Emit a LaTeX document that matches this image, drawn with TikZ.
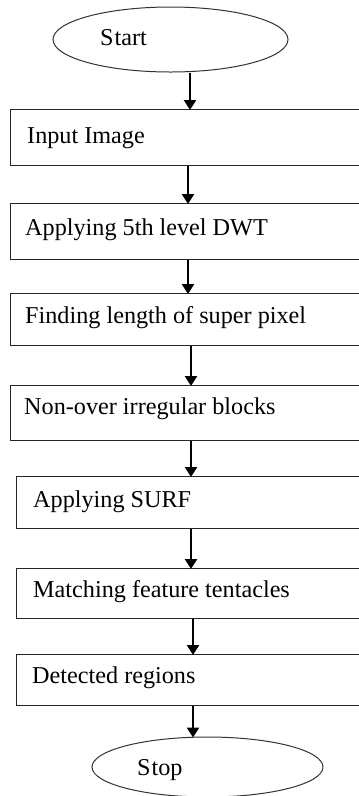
\documentclass[tikz,border=0pt]{standalone}
\usepackage{fontspec}
\setmainfont{Liberation Serif}
\usetikzlibrary{shapes.geometric,arrows.meta}
\tikzset{
  stepbox/.style={draw=black!85, line width=1.3pt, rectangle, anchor=north west, minimum width=420pt, inner sep=0pt},
  term/.style={draw=black!80, line width=1pt, ellipse, inner sep=0pt},
  txt/.style={anchor=base west, inner sep=0pt, font=\fontsize{24.2}{28}\selectfont},
  arr/.style={line width=2.6pt, -{Triangle[length=10pt,width=12pt]}, shorten >=-1pt}
}
\begin{document}
\begin{tikzpicture}[x=1pt,y=-1pt]
\useasboundingbox (0,0) rectangle (359,796);
\clip (0,0) rectangle (359,796);
\fill[white] (0,0) rectangle (359,796);
% terminals
\node[term, minimum width=235pt, minimum height=65pt] (s) at (170.5,39.5) {};
\node[txt] (st) at (100,45) {S\kern1pt tart};
\node[term, minimum width=231pt, minimum height=60pt] (e) at (207.5,767) {};
\node[txt] (et) at (137,775) {S\kern1pt top};
% boxes
\node[stepbox, minimum height=56pt] (b1) at (10,109) {};
\node[stepbox, minimum height=56pt] (b2) at (10,203) {};
\node[stepbox, minimum height=52pt] (b3) at (10,293) {};
\node[stepbox, minimum height=55pt] (b4) at (10,385) {};
\node[stepbox, minimum height=52pt] (b5) at (16,476) {};
\node[stepbox, minimum height=50pt] (b6) at (16,568) {};
\node[stepbox, minimum height=51pt] (b7) at (16,654) {};
% labels
\node[txt] (t1) at (27,143) {Input Image};
\node[txt] (t2) at (25,235) {Applying 5th level DWT};
\node[txt] (t3) at (25,323) {Finding length of super pixel};
\node[txt] (t4) at (24,414) {Non-over irregular blocks};
\node[txt] (t5) at (33,507) {Applying SURF};
\node[txt] (t6) at (33,597) {Matching feature tentacles};
\node[txt] (t7) at (32,683) {Detected regions};
% arrow columns
\coordinate (xa) at (190,0);
\coordinate (xb) at (188,0);
\coordinate (xc) at (191,0);
\coordinate (xd) at (193,0);
% connectors
\draw[arr] (s.south -| xa) -- (b1.north west -| xa);
\draw[arr] (b1.south west -| xb) -- (b2.north west -| xb);
\draw[arr] (b2.south west -| xb) -- (b3.north west -| xb);
\draw[arr] (b3.south west -| xc) -- (b4.north west -| xc);
\draw[arr] (b4.south west -| xc) -- (b5.north west -| xc);
\draw[arr] (b5.south west -| xc) -- (b6.north west -| xc);
\draw[arr] (b6.south west -| xd) -- (b7.north west -| xd);
\draw[arr] (b7.south west -| xd) -- (e.north -| xd);
\end{tikzpicture}
\end{document}
